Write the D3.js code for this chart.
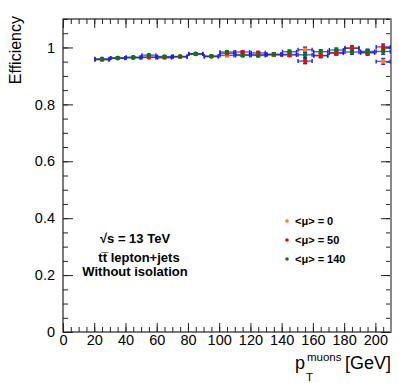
<!DOCTYPE html>
<html>
<head>
<meta charset="utf-8">
<script src="https://d3js.org/d3.v7.min.js"></script>
<style>
body { margin: 0; background: white; }
svg { font-family: "Liberation Sans", Arial, sans-serif; }
</style>
</head>
<body>
<script>
// bin centres (GeV) and half widths
var ptBins = [25, 35, 45, 55, 65, 75, 85, 95, 105, 115, 125, 135, 145, 155, 165, 175, 185, 195, 205];
var binHalf = 4.5;

// efficiencies
var effMu0 = [0.957, 0.962, 0.964, 0.965, 0.964, 0.967, 0.977, 0.968, 0.972, 0.975, 0.975, 0.974, 0.975, 0.992, 0.972, 0.982, 0.998, 0.983, 0.951];
var effMu50 = [0.958, 0.963, 0.965, 0.966, 0.966, 0.968, 0.977, 0.969, 0.979, 0.984, 0.981, 0.976, 0.974, 0.952, 0.971, 0.980, 0.997, 0.981, 1.002];
var effMu140 = [0.960, 0.963, 0.965, 0.973, 0.968, 0.968, 0.978, 0.969, 0.984, 0.972, 0.972, 0.975, 0.985, 0.974, 0.985, 0.991, 0.984, 0.986, 0.986];
var errEff = [0.002, 0.002, 0.002, 0.002, 0.003, 0.003, 0.003, 0.003, 0.004, 0.004, 0.005, 0.005, 0.006, 0.009, 0.007, 0.007, 0.008, 0.008, 0.010];

var seriesNames = ["<\u03bc> = 0", "<\u03bc> = 50", "<\u03bc> = 140"];
var seriesColors = ["#ff7f1e", "#ff0000", "#007f00"];
var seriesValues = [effMu0, effMu50, effMu140];

var xTicks = [0, 20, 40, 60, 80, 100, 120, 140, 160, 180, 200];
var yTicks = [0, 0.2, 0.4, 0.6, 0.8, 1];

var width = 399, height = 383;
var frameL = 63, frameR = 391, frameT = 19, frameB = 332;

var svg = d3.select("body").append("svg")
  .attr("width", width)
  .attr("height", height);

var x = d3.scaleLinear().domain([0, 210]).range([frameL, frameR]);
var y = d3.scaleLinear().domain([0, 1.1]).range([frameB, frameT]);

var xMinor = d3.range(0, 211, 5);
var yMinor = d3.range(0, 1.101, 0.05);

function styleAxis(g) {
  g.select(".domain").remove();
  g.selectAll("line").attr("stroke", "#222").attr("stroke-width", 1);
  g.selectAll("text").attr("fill", "#000").attr("font-size", "14.5px");
}

// bottom
svg.append("g").attr("transform", "translate(0," + frameB + ")")
  .call(d3.axisBottom(x).tickValues(xMinor).tickSize(-5).tickFormat(""))
  .call(styleAxis);
svg.append("g").attr("transform", "translate(0," + frameB + ")")
  .call(d3.axisBottom(x).tickValues(xTicks).tickSize(-9).tickPadding(3).tickFormat(d3.format("d")))
  .call(styleAxis);
// top
svg.append("g").attr("transform", "translate(0," + frameT + ")")
  .call(d3.axisTop(x).tickValues(xMinor).tickSize(-5).tickFormat(""))
  .call(styleAxis);
svg.append("g").attr("transform", "translate(0," + frameT + ")")
  .call(d3.axisTop(x).tickValues(xTicks).tickSize(-9).tickFormat(""))
  .call(styleAxis);
// left
svg.append("g").attr("transform", "translate(" + frameL + ",0)")
  .call(d3.axisLeft(y).tickValues(yMinor).tickSize(-5).tickFormat(""))
  .call(styleAxis);
svg.append("g").attr("transform", "translate(" + frameL + ",0)")
  .call(d3.axisLeft(y).tickValues(yTicks).tickSize(-10).tickPadding(8)
    .tickFormat(function(d) { return d === 0 || d === 1 ? d3.format("d")(d) : d3.format(".1f")(d); }))
  .call(styleAxis);
// right
svg.append("g").attr("transform", "translate(" + frameR + ",0)")
  .call(d3.axisRight(y).tickValues(yMinor).tickSize(-5).tickFormat(""))
  .call(styleAxis);
svg.append("g").attr("transform", "translate(" + frameR + ",0)")
  .call(d3.axisRight(y).tickValues(yTicks).tickSize(-10).tickFormat(""))
  .call(styleAxis);

// frame
svg.append("rect")
  .attr("x", frameL).attr("y", frameT)
  .attr("width", frameR - frameL).attr("height", frameB - frameT)
  .attr("fill", "none").attr("stroke", "#222").attr("stroke-width", 1.2);
svg.append("line")
  .attr("x1", frameR).attr("x2", frameR).attr("y1", frameT).attr("y2", frameB)
  .attr("stroke", "#888").attr("stroke-width", 2);

// error bars, all in blue
var errColor = "#2424c8";
seriesValues.forEach(function(vals) {
  var g = svg.append("g").attr("stroke", errColor).attr("stroke-width", 1.4);
  ptBins.forEach(function(pt, i) {
    var cy = y(vals[i]);
    var x0 = x(pt - binHalf), x1 = x(pt + binHalf);
    g.append("line").attr("x1", x0).attr("x2", x1).attr("y1", cy).attr("y2", cy)
      .attr("stroke-opacity", 0.75);
    g.append("line").attr("x1", x0).attr("x2", x0).attr("y1", cy - 2).attr("y2", cy + 2);
    g.append("line").attr("x1", x1).attr("x2", x1).attr("y1", cy - 2).attr("y2", cy + 2);
    var ylo = y(vals[i] - errEff[i]), yhi = y(vals[i] + errEff[i]);
    g.append("line").attr("x1", x(pt)).attr("x2", x(pt)).attr("y1", yhi).attr("y2", ylo);
    g.append("line").attr("x1", x(pt) - 2).attr("x2", x(pt) + 2).attr("y1", yhi).attr("y2", yhi);
    g.append("line").attr("x1", x(pt) - 2).attr("x2", x(pt) + 2).attr("y1", ylo).attr("y2", ylo);
  });
});

// markers
seriesValues.forEach(function(vals, s) {
  svg.append("g").selectAll("circle")
    .data(ptBins)
    .enter()
    .append("circle")
    .attr("cx", function(d) { return x(d); })
    .attr("cy", function(d, i) { return y(vals[i]); })
    .attr("r", 2.3)
    .attr("fill", seriesColors[s]);
});

// legend
var legend = svg.append("g").attr("transform", "translate(287,221)");
seriesNames.forEach(function(name, s) {
  legend.append("circle").attr("cx", 0).attr("cy", s * 19).attr("r", 1.8).attr("fill", seriesColors[s]);
  legend.append("text").attr("x", 8).attr("y", s * 19 + 4)
    .attr("font-size", "11px").attr("font-weight", "bold").text(name);
});

// labels
var info = svg.append("g").attr("font-weight", "bold").attr("font-size", "13px").attr("text-anchor", "middle");
info.append("text").attr("x", 135).attr("y", 243).text("\u221As = 13 TeV");
info.append("text").attr("x", 139).attr("y", 262).text("t\u0074\u0305 lepton+jets");
info.append("text").attr("x", 135).attr("y", 276).text("Without isolation");

// axis titles
svg.append("text")
  .attr("transform", "translate(21,16) rotate(-90)")
  .attr("text-anchor", "end")
  .attr("font-size", "16px")
  .text("Efficiency");

svg.append("text").attr("x", 295).attr("y", 369).attr("font-size", "18px").text("p");
svg.append("text").attr("x", 307).attr("y", 361).attr("font-size", "11.5px").text("muons");
svg.append("text").attr("x", 306).attr("y", 381).attr("font-size", "11.5px").text("T");
svg.append("text").attr("x", 391).attr("y", 369).attr("text-anchor", "end").attr("font-size", "18px").text("[GeV]");
</script>
</body>
</html>
